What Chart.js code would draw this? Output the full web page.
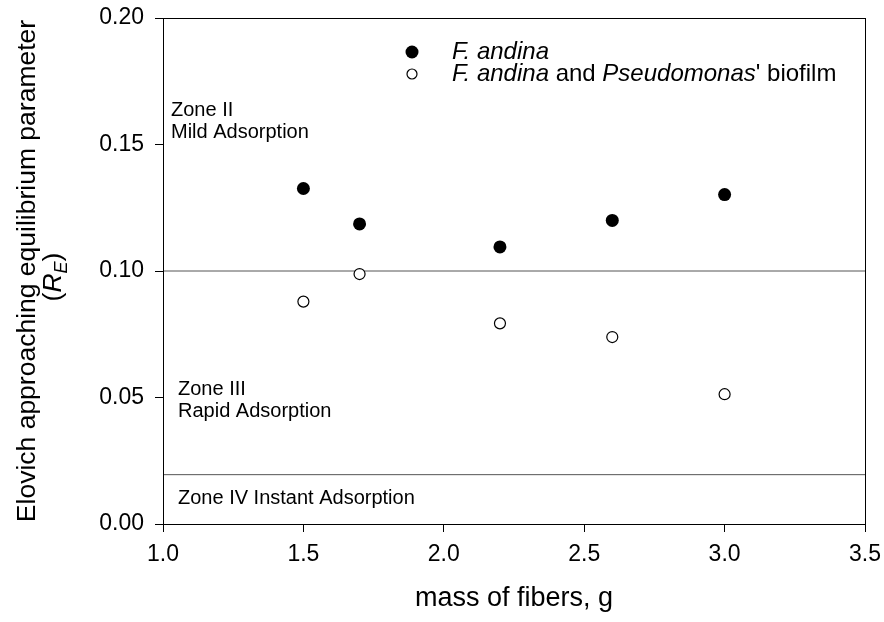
<!DOCTYPE html>
<html>
<head>
<meta charset="utf-8">
<script src="https://cdn.jsdelivr.net/npm/chart.js@4.4.1/dist/chart.umd.min.js"></script>
<style>
  body { margin: 0; background: #fff; }
  #wrap { width: 884px; height: 622px; }
</style>
</head>
<body>
<div id="wrap"><canvas id="c" width="884" height="622"></canvas></div>
<script>
// mass of fibers, g
const MASS = [1.5, 1.7, 2.2, 2.6, 3.0];
// Elovich R_E values
const ANDINA = [0.1326, 0.1186, 0.1095, 0.1200, 0.1302];
const ANDINA_BIOFILM = [0.0879, 0.0988, 0.0793, 0.0739, 0.0513];
// zone boundaries
const ZONE_LIMITS = [0.10, 0.0195];
const X_RANGE = [1.0, 3.5];
const Y_RANGE = [0.0, 0.20];

const FONT = "'Liberation Sans', Arial, sans-serif";

const toPoints = (xs, ys) => xs.map((x, i) => ({ x, y: ys[i] }));

const limitSets = ZONE_LIMITS.map(v => ({
    type: 'line',
    data: [{ x: X_RANGE[0], y: v }, { x: X_RANGE[1], y: v }],
    borderColor: '#555',
    borderWidth: 1,
    pointRadius: 0,
    order: 3,
}));

// zone captions, frame, legend, axis titles
const decor = {
    id: 'decor',
    afterDatasetsDraw(chart) {
        const { ctx, chartArea: a } = chart;
        ctx.save();
        ctx.strokeStyle = '#000';
        ctx.lineWidth = 1;
        ctx.strokeRect(Math.round(a.left) + 0.5, Math.round(a.top) + 0.5,
            Math.round(a.right - a.left), Math.round(a.bottom - a.top));

        ctx.fillStyle = '#000';
        ctx.textBaseline = 'middle';
        ctx.textAlign = 'left';
        ctx.font = '20px ' + FONT;
        ctx.fillText('Zone II', 171, 110);
        ctx.fillText('Mild Adsorption', 171, 132);
        ctx.fillText('Zone III', 178, 389);
        ctx.fillText('Rapid Adsorption', 178, 411);
        ctx.fillText('Zone IV Instant Adsorption', 178, 498);

        // legend
        ctx.beginPath();
        ctx.arc(412, 52, 6.5, 0, Math.PI * 2);
        ctx.fill();
        ctx.beginPath();
        ctx.arc(412, 74, 5, 0, Math.PI * 2);
        ctx.lineWidth = 1.2;
        ctx.stroke();
        const runs = (parts, x, y) => {
            parts.forEach(([t, it]) => {
                ctx.font = (it ? 'italic ' : '') + '24px ' + FONT;
                ctx.fillText(t, x, y);
                x += ctx.measureText(t).width;
            });
        };
        runs([['F. andina', true]], 452, 52);
        runs([['F. andina', true], [' and ', false], ['Pseudomonas', true], ["' biofilm", false]], 452, 74);

        // x title
        ctx.textAlign = 'center';
        ctx.textBaseline = 'alphabetic';
        ctx.font = '27px ' + FONT;
        ctx.fillText('mass of fibers, g', (a.left + a.right) / 2, 606);

        // y title
        ctx.save();
        ctx.font = '26.5px ' + FONT;
        ctx.translate(35, (a.top + a.bottom) / 2);
        ctx.rotate(-Math.PI / 2);
        ctx.fillText('Elovich approaching equilibrium parameter', 0, 0);
        ctx.restore();

        ctx.save();
        ctx.translate(61, (a.top + a.bottom) / 2 + 6);
        ctx.rotate(-Math.PI / 2);
        const segs = [['(', '26.5px ', 0], ['R', 'italic 26.5px ', 0], ['E', 'italic 18px ', 6], [')', '26.5px ', 0]];
        let w = 0;
        segs.forEach(([t, f]) => { ctx.font = f + FONT; w += ctx.measureText(t).width; });
        let x = -w / 2;
        ctx.textAlign = 'left';
        segs.forEach(([t, f, dy]) => {
            ctx.font = f + FONT;
            ctx.fillText(t, x, dy);
            x += ctx.measureText(t).width;
        });
        ctx.restore();
        ctx.restore();
    },
};

new Chart(document.getElementById('c'), {
    type: 'scatter',
    data: {
        datasets: [
            {
                label: 'F. andina',
                data: toPoints(MASS, ANDINA),
                pointRadius: 6.5,
                pointBackgroundColor: '#000',
                pointBorderColor: '#000',
                pointBorderWidth: 0,
                order: 1,
            },
            {
                label: "F. andina and Pseudomonas' biofilm",
                data: toPoints(MASS, ANDINA_BIOFILM),
                pointRadius: 5.5,
                pointBackgroundColor: '#fff',
                pointBorderColor: '#000',
                pointBorderWidth: 1.2,
                order: 2,
            },
            ...limitSets,
        ],
    },
    options: {
        responsive: false,
        animation: false,
        layout: { padding: { left: 0, top: 18, right: 19, bottom: 0 } },
        plugins: {
            legend: { display: false },
            tooltip: { enabled: false },
        },
        scales: {
            x: {
                type: 'linear',
                min: X_RANGE[0],
                max: X_RANGE[1],
                border: { display: false },
                grid: { drawOnChartArea: false, drawTicks: true, tickLength: 8, color: '#000' },
                ticks: {
                    stepSize: 0.5,
                    color: '#000',
                    padding: 9,
                    maxRotation: 0,
                    font: { family: FONT, size: 23 },
                    callback: v => v.toFixed(1),
                },
                afterFit: s => { s.height = 98; s.paddingLeft = 0; s.paddingRight = 0; },
            },
            y: {
                type: 'linear',
                min: Y_RANGE[0],
                max: Y_RANGE[1],
                border: { display: false },
                grid: { drawOnChartArea: false, drawTicks: true, tickLength: 8, color: '#000' },
                ticks: {
                    stepSize: 0.05,
                    color: '#000',
                    padding: 11,
                    font: { family: FONT, size: 23 },
                    callback: v => v.toFixed(2),
                },
                afterFit: s => { s.width = 163; s.paddingTop = 0; s.paddingBottom = 0; },
            },
        },
    },
    plugins: [decor],
});
</script>
</body>
</html>
